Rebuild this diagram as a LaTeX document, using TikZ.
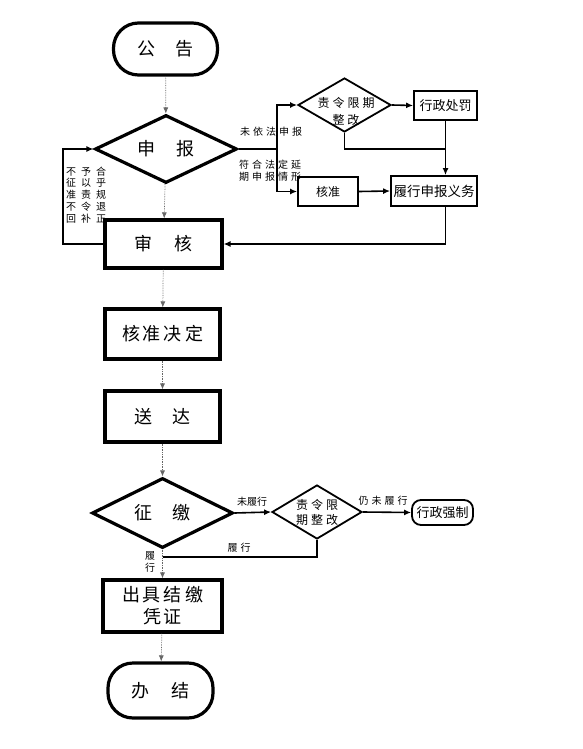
\documentclass[tikz,border=0pt]{standalone}
\usepackage{fontspec}
\setmainfont{Noto Sans CJK SC}
\newfontfamily\cjk{Noto Sans CJK SC}
\usetikzlibrary{shapes.geometric,arrows.meta}
\newcommand\gp{\hspace{3pt}}
\begin{document}
\begin{tikzpicture}[x=1pt,y=-1pt,
  mainbox/.style={draw, line width=3.2pt, inner sep=0pt, font=\fontsize{18}{22}\selectfont, align=center},
  term/.style={mainbox, rounded corners=25pt},
  bigdia/.style={draw, diamond, line width=3.2pt, inner sep=0pt, aspect=2, font=\fontsize{18}{22}\selectfont},
  smallbox/.style={draw, line width=1.8pt, inner sep=0pt, font=\fontsize{13}{15}\selectfont},
  smalldia/.style={draw, diamond, line width=1.8pt, inner sep=0pt, aspect=1.7, font=\fontsize{12}{15}\selectfont, align=center},
  flow/.style={line width=0.7pt, black!60, densely dotted, -{Latex[length=6pt,width=5pt]}},
  link/.style={line width=1.6pt, -{Latex[length=7pt,width=6pt]}},
  plain/.style={line width=1.6pt},
  lbl/.style={inner sep=0pt, font=\fontsize{10}{11.5}\selectfont, align=center}]
\useasboundingbox[fill=white] (0,0) rectangle (582,749);

% main column
\node[term, minimum width=104pt, minimum height=52pt] (gg) at (165.5,49) {公\hspace{20pt}告};
\node[bigdia, minimum width=142pt, minimum height=68pt] (sb) at (166,149) {申\hspace{22pt}报};
\node[mainbox, minimum width=117pt, minimum height=48pt] (sh) at (163.5,244) {审\hspace{22pt}核};
\node[mainbox, minimum width=115pt, minimum height=50pt] (jd) at (162.5,334) {核\gp 准\gp 决\gp 定};
\node[mainbox, minimum width=115pt, minimum height=51pt] (sd) at (162.5,416.5) {送\hspace{20pt}达};
\node[bigdia, minimum width=141pt, minimum height=70pt] (zj) at (162.5,513) {征\hspace{20pt}缴};
\node[mainbox, minimum width=119pt, minimum height=52pt] (cj) at (162.5,606) {出\gp 具\gp 结\gp 缴\\凭\gp 证};
\node[term, minimum width=105pt, minimum height=55pt] (bj) at (160.5,690.5) {办\hspace{22pt}结};

% right branch (upper)
\node[smalldia, minimum width=93pt, minimum height=54pt] (zl1) at (344.5,105) {};
\node[inner sep=0pt, font=\fontsize{12}{17}\selectfont, align=center] (zl1t) at (346,111) {责\gp 令\gp 限\gp 期\\整\gp 改};
\node[smallbox, minimum width=63pt, minimum height=29pt] (cf) at (445.5,105.5) {行政处罚};
\node[smallbox, minimum width=60pt, minimum height=29pt, font=\fontsize{12}{14}\selectfont] (hz) at (328,191.5) {核准};
\node[smallbox, minimum width=86pt, minimum height=30pt, font=\fontsize{13.5}{15}\selectfont] (lx) at (434,191) {履行申报义务};

% right branch (lower)
\node[smalldia, minimum width=90pt, minimum height=54pt] (zl2) at (317,512) {责\gp 令\gp 限\\期\gp 整\gp 改};
\node[smallbox, rounded corners=9pt, minimum width=61pt, minimum height=25pt] (qz) at (442.5,512.5) {行政强制};

% main flow
\draw[flow] (gg) -- (sb);
\draw[flow] (sb) -- (sh);
\draw[flow] (sh) -- (jd);
\draw[flow] (jd) -- (sd);
\draw[flow] (sd) -- (zj);
\draw[flow] (zj) -- (cj);
\draw[flow] (cj) -- (bj);

% left loop
\coordinate (lp) at (63,149);
\draw[link] (sh.west) -| (lp) -- (sb.west);
\node[lbl, font=\fontsize{10}{11.8}\selectfont] (lpt) at (86,196.5) {%
  \begin{tabular}{@{}c@{\hspace{5pt}}c@{\hspace{5pt}}c@{}}
  不&予&合\\ 征&以&乎\\ 准&责&规\\ 不&令&退\\ 回&补&正
  \end{tabular}};

% upper right connectors
\coordinate (j1) at (277,149);
\draw[plain] (sb.east) -- (j1);
\draw[link] (j1) |- (zl1.west);
\draw[link] (j1) |- (hz.west);
\draw[link] (zl1.east) -- (cf.west);
\draw[link] (cf.south) -- (cf.south |- lx.north);
\draw[plain] (zl1.south) |- (cf.south |- sb.east);
\draw[link] (hz.east) -- (lx.west);
\draw[link] (cf.south |- lx.south) |- (sh.east);
\node[lbl] (t1) at (271,132) {未\gp 依\gp 法\gp 申\gp 报};
\node[lbl] (t2) at (270,170.5) {符\gp 合\gp 法\gp 定\gp 延\\期\gp 申\gp 报\gp 情\gp 形};

% lower right connectors
\draw[link] (zj.east) -- (zl2.west);
\draw[link] (zl2.east) -- (qz.west);
\coordinate (j2) at (162.5,557);
\draw[plain] (zl2.south) |- (j2);
\node[lbl] (t3) at (252,502) {未履行};
\node[lbl] (t4) at (383,501) {仍\gp 未\gp 履\gp 行};
\node[lbl] (t5) at (239,548) {履\gp 行};
\node[lbl] (t6) at (150,562) {履\\行};
\end{tikzpicture}
\end{document}
